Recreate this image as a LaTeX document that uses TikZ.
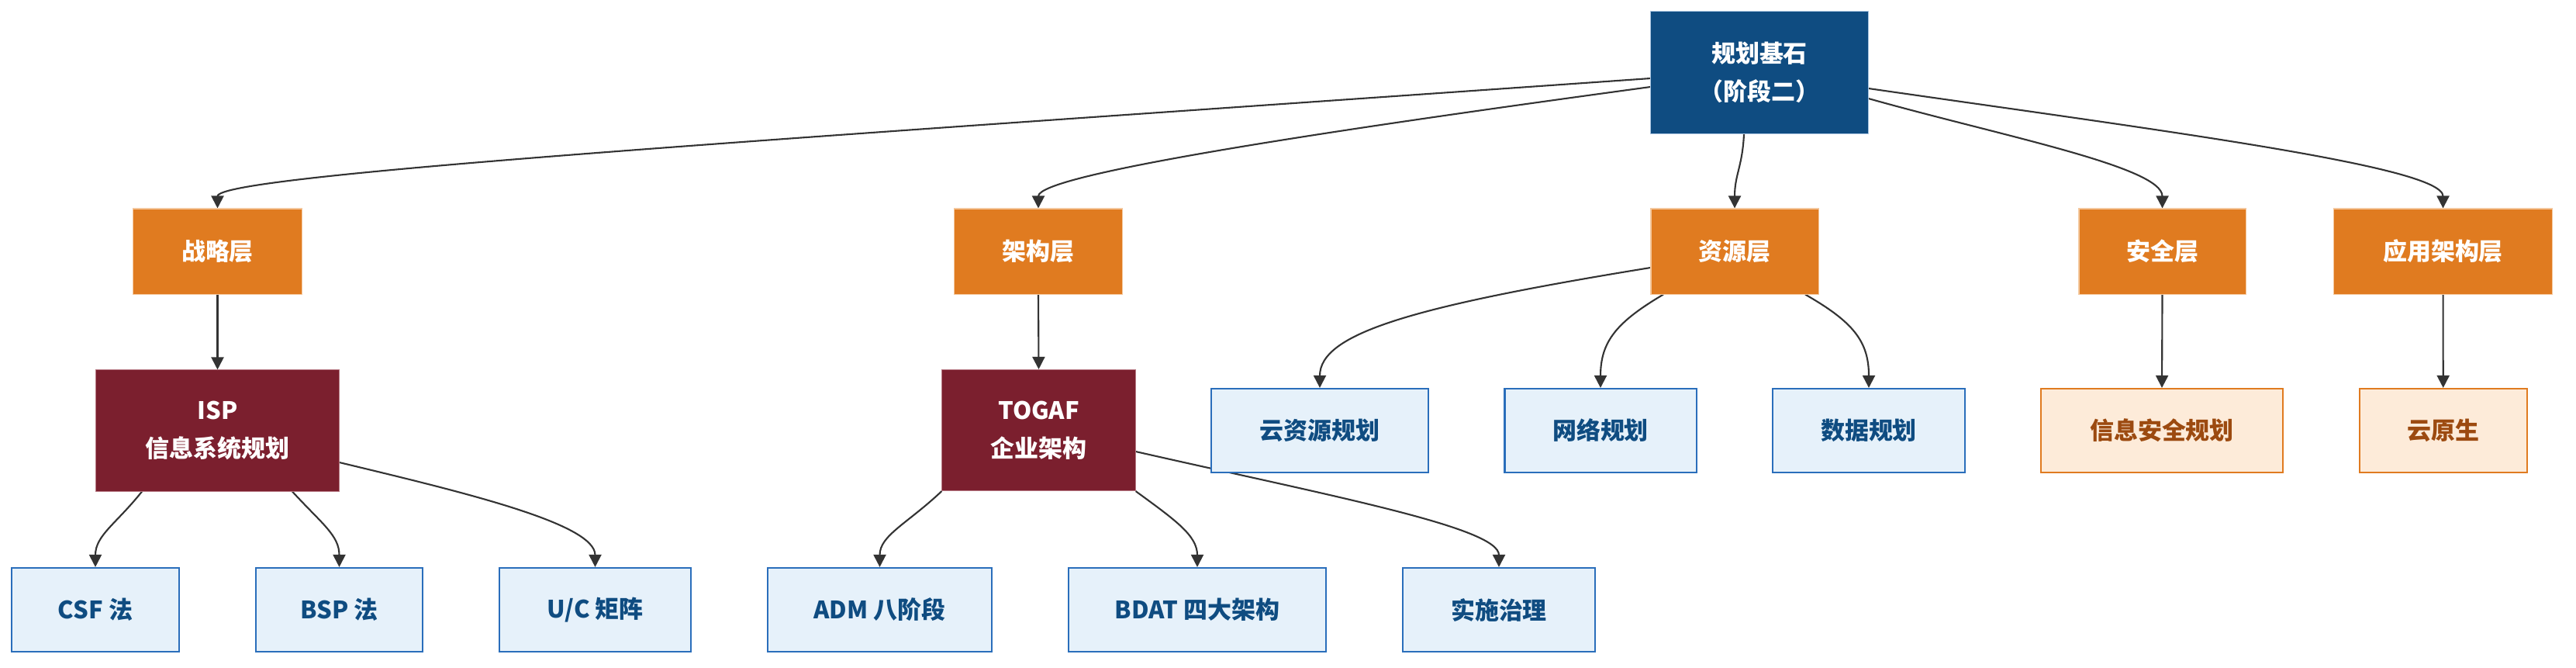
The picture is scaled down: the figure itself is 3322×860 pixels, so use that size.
\documentclass[tikz,border=0pt]{standalone}
\usepackage{fontspec}
\setmainfont{Noto Sans CJK SC}
\usetikzlibrary{arrows.meta,backgrounds,calc}
\definecolor{rootfill}{HTML}{0F4C81}
\definecolor{rootline}{HTML}{A9C4E0}
\definecolor{layerfill}{HTML}{E07B20}
\definecolor{layerline}{HTML}{F4C79C}
\definecolor{redfill}{HTML}{7B1F2E}
\definecolor{redline}{HTML}{B77A84}
\definecolor{bluefill}{HTML}{E6F1FA}
\definecolor{blueline}{HTML}{2A6EBB}
\definecolor{bluetext}{HTML}{0F4C81}
\definecolor{orfill}{HTML}{FDEBD9}
\definecolor{orline}{HTML}{E07B20}
\definecolor{ortext}{HTML}{9C4A10}
\definecolor{edgecol}{HTML}{333333}
\begin{document}
\begin{tikzpicture}[x=0.01cm,y=-0.01cm,
  base/.style={draw, rectangle, inner sep=0pt, align=center,
    font=\fontsize{8.8pt}{13.8pt}\selectfont\bfseries},
  rootbox/.style={base, fill=rootfill, draw=rootline, line width=0.3pt, text=white,
    minimum width=2.80cm, minimum height=1.57cm},
  layerbox/.style={base, fill=layerfill, draw=layerline, line width=0.3pt, text=white,
    minimum height=1.10cm},
  redbox/.style={base, fill=redfill, draw=redline, line width=0.3pt, text=white,
    minimum height=1.56cm},
  bluebox/.style={base, fill=bluefill, draw=blueline, line width=0.6pt, text=bluetext,
    minimum height=1.08cm},
  orangebox/.style={base, fill=orfill, draw=orline, line width=0.6pt, text=ortext,
    minimum height=1.08cm},
  edge/.style={draw=edgecol, line width=0.6pt, -{Triangle[length=0.16cm,width=0.16cm]}}
]
\useasboundingbox (0,0) rectangle (3322,860);

\node[rootbox] (root) at (2269,93.5) {规划基石\\（阶段二）};

\node[layerbox, minimum width=2.17cm] (zl) at (280.5,324) {战略层};
\node[layerbox, minimum width=2.16cm] (jg) at (1339,324) {架构层};
\node[layerbox, minimum width=2.16cm] (zy) at (2237,324) {资源层};
\node[layerbox, minimum width=2.15cm] (aq) at (2788.5,324) {安全层};
\node[layerbox, minimum width=2.81cm] (yy) at (3150.5,324) {应用架构层};

\node[redbox, minimum width=3.13cm] (isp) at (280.5,555) {ISP\\信息系统规划};
\node[redbox, minimum width=2.49cm] (togaf) at (1339.5,554.5) {TOGAF\\企业架构};

\node[bluebox, minimum width=2.80cm] (cloud) at (1702,555) {云资源规划};
\node[bluebox, minimum width=2.47cm] (net) at (2064,555) {网络规划};
\node[bluebox, minimum width=2.48cm] (data) at (2410,555) {数据规划};
\node[orangebox, minimum width=3.12cm] (sec) at (2788,555) {信息安全规划};
\node[orangebox, minimum width=2.155cm] (cn) at (3150.7,555) {云原生};

\node[bluebox, minimum width=2.155cm] (csf) at (123,786) {CSF 法};
\node[bluebox, minimum width=2.15cm] (bsp) at (437.5,786) {BSP 法};
\node[bluebox, minimum width=2.47cm] (uc) at (767.5,786) {U/C 矩阵};
\node[bluebox, minimum width=2.89cm] (adm) at (1134.5,786) {ADM 八阶段};
\node[bluebox, minimum width=3.325cm] (bdat) at (1544,786) {BDAT 四大架构};
\node[bluebox, minimum width=2.475cm] (ss) at (1933,786) {实施治理};

\begin{pgfonlayer}{background}
\draw[edge] ($(root.west)+(0,7.5)$) .. controls (1000,180) and (280.5,225) .. (zl.north);
\draw[edge] ($(root.west)+(0,18.5)$) .. controls (1700,170) and (1339,225) .. (jg.north);
\draw[edge] ($(root.south)+(-20,0)$) .. controls (2247,215) and (2237,225) .. (zy.north);
\draw[edge] ($(root.east)+(0,33.5)$) .. controls (2580,175) and (2788.5,215) .. (aq.north);
\draw[edge] ($(root.east)+(0,20.5)$) .. controls (2800,170) and (3150.5,215) .. (yy.north);

\draw[edge] (zl.south) -- (isp.north);
\draw[edge] (jg.south) -- (togaf.north);
\draw[edge] (aq.south) -- (sec.north);
\draw[edge] (yy.south) -- (cn.north);

\draw[edge] ($(zy.west)+(0,21)$) .. controls (1820,395) and (1702,430) .. (cloud.north);
\draw[edge] ($(zy.south)+(-92,0)$) .. controls (2085,415) and (2064,440) .. (net.north);
\draw[edge] ($(zy.south)+(91,0)$) .. controls (2390,415) and (2410,440) .. (data.north);

\draw[edge] ($(isp.south)+(-97.5,0)$) .. controls (150,675) and (123,690) .. (csf.north);
\draw[edge] ($(isp.south)+(96.5,0)$) .. controls (415,675) and (437.5,690) .. (bsp.north);
\draw[edge] ($(isp.east)+(0,41)$) .. controls (600,635) and (767.5,675) .. (uc.north);

\draw[edge] (togaf.south west) .. controls (1170,675) and (1134.5,690) .. (adm.north);
\draw[edge] (togaf.south east) .. controls (1515,670) and (1544,690) .. (bdat.north);
\draw[edge] ($(togaf.east)+(0,27.5)$) .. controls (1720,640) and (1933,680) .. (ss.north);
\end{pgfonlayer}
\end{tikzpicture}
\end{document}
